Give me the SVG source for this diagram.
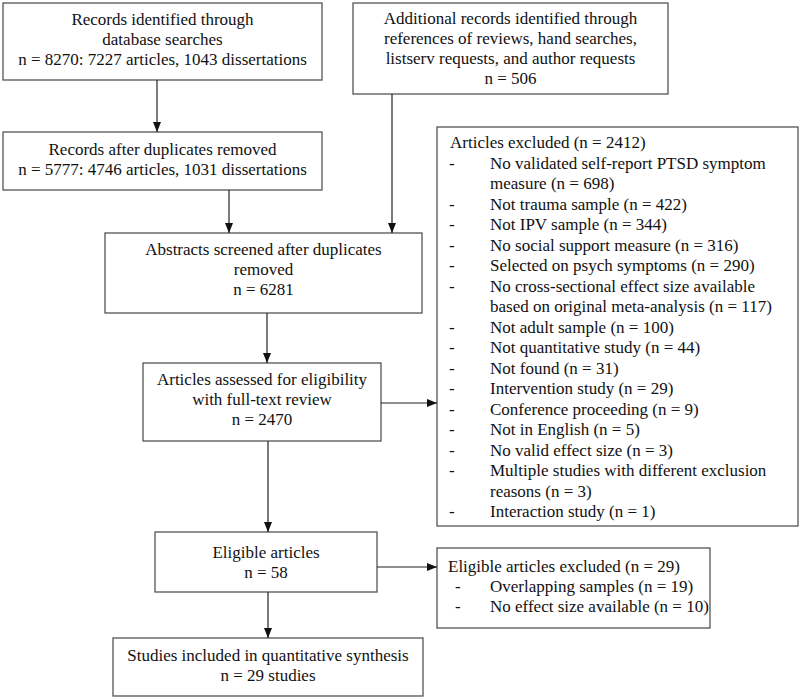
<svg xmlns="http://www.w3.org/2000/svg" width="800" height="699" viewBox="0 0 800 699">
<style>
.box{fill:#fff;stroke:#555;stroke-width:1.3}
text{font-family:"Liberation Serif","Times New Roman",serif;font-size:17px;fill:#111}
.c{text-anchor:middle}
.conn line{stroke:#222;stroke-width:1.2;marker-end:url(#ah)}
</style>
<defs>
<marker id="ah" viewBox="0 0 10 10" refX="10" refY="5" markerWidth="10" markerHeight="10" markerUnits="userSpaceOnUse" orient="auto">
<path d="M0,1 L10,5 L0,9 Z" fill="#111"/>
</marker>
</defs>
<rect width="800" height="699" fill="#fff"/>
<g id="n1">
<rect class="box" x="3" y="3" width="319" height="77"/>
<text class="c" x="162.5" y="25">Records identified through</text>
<text class="c" x="162.5" y="45">database searches</text>
<text class="c" x="162.5" y="65">n = 8270: 7227 articles, 1043 dissertations</text>
</g>
<g id="n2">
<rect class="box" x="353" y="3" width="315" height="91"/>
<text class="c" x="510.5" y="24">Additional records identified through</text>
<text class="c" x="510.5" y="44">references of reviews, hand searches,</text>
<text class="c" x="510.5" y="64">listserv requests, and author requests</text>
<text class="c" x="510.5" y="84">n = 506</text>
</g>
<g id="n3">
<rect class="box" x="3" y="132" width="319" height="58"/>
<text class="c" x="162.5" y="155">Records after duplicates removed</text>
<text class="c" x="162.5" y="175">n = 5777: 4746 articles, 1031 dissertations</text>
</g>
<g id="n4">
<rect class="box" x="105" y="233" width="317" height="80"/>
<text class="c" x="263.5" y="255">Abstracts screened after duplicates</text>
<text class="c" x="263.5" y="275">removed</text>
<text class="c" x="263.5" y="295">n = 6281</text>
</g>
<g id="n5">
<rect class="box" x="143" y="363" width="238" height="78"/>
<text class="c" x="262" y="385">Articles assessed for eligibility</text>
<text class="c" x="262" y="405">with full-text review</text>
<text class="c" x="262" y="425">n = 2470</text>
</g>
<g id="n6">
<rect class="box" x="437" y="127" width="361" height="399"/>
<text x="450" y="148">Articles excluded (n = 2412)</text>
<g>
<text x="449" y="168.5">-</text><text x="490" y="168.5">No validated self-report PTSD symptom</text>
<text x="490" y="189">measure (n = 698)</text>
<text x="449" y="209.5">-</text><text x="490" y="209.5">Not trauma sample (n = 422)</text>
<text x="449" y="230">-</text><text x="490" y="230">Not IPV sample (n = 344)</text>
<text x="449" y="250.5">-</text><text x="490" y="250.5">No social support measure (n = 316)</text>
<text x="449" y="271">-</text><text x="490" y="271">Selected on psych symptoms (n = 290)</text>
<text x="449" y="291.5">-</text><text x="490" y="291.5">No cross-sectional effect size available</text>
<text x="490" y="312">based on original meta-analysis (n = 117)</text>
<text x="449" y="332.5">-</text><text x="490" y="332.5">Not adult sample (n = 100)</text>
<text x="449" y="353">-</text><text x="490" y="353">Not quantitative study (n = 44)</text>
<text x="449" y="373.5">-</text><text x="490" y="373.5">Not found (n = 31)</text>
<text x="449" y="394">-</text><text x="490" y="394">Intervention study (n = 29)</text>
<text x="449" y="414.5">-</text><text x="490" y="414.5">Conference proceeding (n = 9)</text>
<text x="449" y="435">-</text><text x="490" y="435">Not in English (n = 5)</text>
<text x="449" y="455.5">-</text><text x="490" y="455.5">No valid effect size (n = 3)</text>
<text x="449" y="476">-</text><text x="490" y="476">Multiple studies with different exclusion</text>
<text x="490" y="496.5">reasons (n = 3)</text>
<text x="449" y="517">-</text><text x="490" y="517">Interaction study (n = 1)</text>
</g>
</g>
<g id="n7">
<rect class="box" x="155" y="532" width="222" height="60"/>
<text class="c" x="266" y="558">Eligible articles</text>
<text class="c" x="266" y="578">n = 58</text>
</g>
<g id="n8">
<rect class="box" x="437" y="548" width="273" height="80"/>
<text x="448" y="572">Eligible articles excluded (n = 29)</text>
<text x="455" y="592">-</text><text x="490" y="592">Overlapping samples (n = 19)</text>
<text x="455" y="612">-</text><text x="490" y="612">No effect size available (n = 10)</text>
</g>
<g id="n9">
<rect class="box" x="113" y="638" width="310" height="58"/>
<text class="c" x="268" y="661">Studies included in quantitative synthesis</text>
<text class="c" x="268" y="681">n = 29 studies</text>
</g>
<g id="connectors" class="conn">
<line x1="157" y1="80" x2="157" y2="132"/>
<line x1="229" y1="190" x2="229" y2="233"/>
<line x1="392" y1="94" x2="392" y2="233"/>
<line x1="267" y1="313" x2="267" y2="363"/>
<line x1="381" y1="403" x2="437" y2="403"/>
<line x1="268" y1="441" x2="268" y2="532"/>
<line x1="377" y1="567" x2="437" y2="567"/>
<line x1="268" y1="592" x2="268" y2="638"/>
</g>
</svg>
